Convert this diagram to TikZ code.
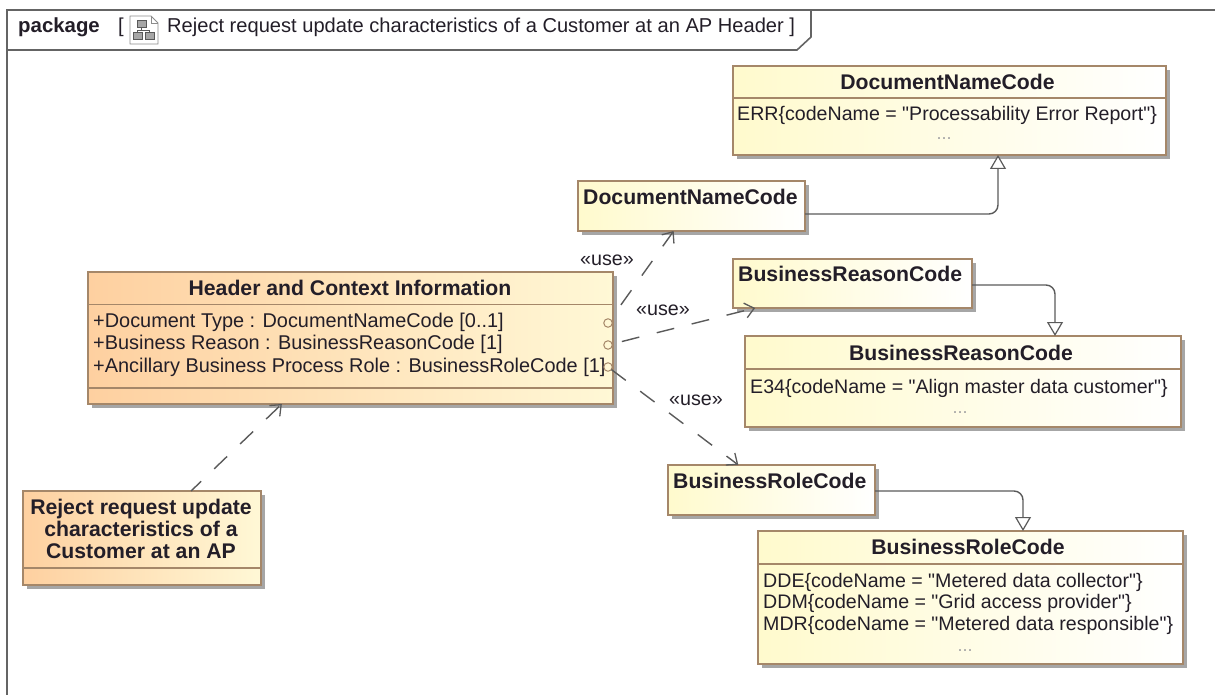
\documentclass[tikz,border=0pt]{standalone}
\usepackage{fontspec}
\setmainfont{Liberation Sans}
\newfontfamily\rawsans{Liberation Sans}
\usetikzlibrary{arrows.meta,shadows}
\definecolor{edgebrown}{RGB}{165,135,105}
\definecolor{framegray}{RGB}{100,100,100}
\definecolor{linegray}{RGB}{90,90,90}
\definecolor{inkdark}{RGB}{35,30,40}
\definecolor{orangeL}{RGB}{254,208,160}
\definecolor{orangeR}{RGB}{255,248,214}
\definecolor{yellowL}{RGB}{255,250,205}
\tikzset{
  x=1pt,y=-1pt,
  boxbase/.style={rectangle,draw=edgebrown,line width=1.5pt,anchor=north west,inner sep=0pt,outer sep=0pt,
    drop shadow={shadow xshift=4pt,shadow yshift=-4pt,fill=black!35,opacity=1}},
  classbox/.style={boxbase,left color=orangeL,right color=orangeR},
  codebox/.style={boxbase,left color=yellowL,right color=white},
  sep/.style={draw=edgebrown,line width=1.3pt},
  titletext/.style={font=\fontsize{21.2}{22}\selectfont\bfseries,text=inkdark,inner sep=0pt},
  bodytext/.style={font=\rawsans\fontsize{19.9}{22}\selectfont,text=inkdark,inner sep=0pt,anchor=west},
  valuetext/.style={font=\rawsans\fontsize{19.6}{22}\selectfont,text=inkdark,inner sep=0pt,anchor=west},
  stereo/.style={font=\fontsize{19.7}{22}\selectfont,text=inkdark,inner sep=0pt},
  dotstext/.style={font=\fontsize{18}{20}\selectfont,text=black!35,inner sep=0pt,anchor=base},
  port/.style={circle,draw=edgebrown,line width=1pt,minimum size=8.5pt,inner sep=0pt,outer sep=0pt},
  usedep/.style={draw=linegray,line width=1.4pt,dash pattern=on 18pt off 18pt,
    -{Straight Barb[length=9pt,width=15pt,line width=1.3pt]}},
  genline/.style={draw=linegray,line width=1.4pt,rounded corners=9pt,
    -{Triangle[open,length=14pt,width=16pt,fill=white,line width=1.2pt]}},
}
\begin{document}
\begin{tikzpicture}
\useasboundingbox (0,0) rectangle (1215,695);
% frame
\draw[framegray,line width=1.6pt] (7,695) -- (7,10) -- (1215,10);
\draw[framegray,line width=1.6pt] (7,50) -- (797,50) -- (811,37) -- (811,10);
\node[font=\fontsize{20.4}{22}\selectfont\bfseries,text=inkdark,inner sep=0pt,anchor=west] (kw) at (18,27) {package};
\node[bodytext,font=\rawsans\fontsize{20.1}{22}\selectfont] (lb) at (118,27) {[};
\node[bodytext,font=\rawsans\fontsize{20.1}{22}\selectfont] (ttl) at (167,27) {Reject request update characteristics of a Customer at an AP Header ]};
% icon
\draw[black!45,line width=0.9pt,fill=white] (130,16) -- (151,16) -- (158,23) -- (158,44) -- (130,44) -- cycle;
\draw[black!45,line width=0.9pt] (151,16) -- (151,23) -- (158,23);
\draw[black!65,line width=1pt,fill=black!35] (137,21) rectangle (146,28);
\draw[black!65,line width=1pt,fill=black!35] (133,33) rectangle (142,40);
\draw[black!65,line width=1pt,fill=black!35] (145,33) rectangle (154,40);
\draw[black!65,line width=1pt] (141.5,28) -- (141.5,30.5) (137.5,33) -- (137.5,30.5) -- (149.5,30.5) -- (149.5,33);
% boxes
\node[codebox,minimum width=433pt,minimum height=89pt] (bigdn) at (733,66) {};
\node[codebox,minimum width=227pt,minimum height=50pt] (dn) at (578,181) {};
\node[codebox,minimum width=239pt,minimum height=49pt] (br) at (733,259) {};
\node[codebox,minimum width=436pt,minimum height=91pt] (bigbr) at (745,336) {};
\node[codebox,minimum width=207pt,minimum height=50pt] (role) at (668,465) {};
\node[codebox,minimum width=425pt,minimum height=133pt] (bigrole) at (758,531) {};
\node[classbox,minimum width=525pt,minimum height=132pt] (hdr) at (88,272) {};
\node[classbox,minimum width=238pt,minimum height=94pt] (rej) at (23,491) {};
% dividers
\draw[sep] (bigdn.west |- 0,98) -- (bigdn.east |- 0,98);
\draw[sep] (bigbr.west |- 0,369) -- (bigbr.east |- 0,369);
\draw[sep] (bigrole.west |- 0,564) -- (bigrole.east |- 0,564);
\draw[sep] (hdr.west |- 0,304.5) -- (hdr.east |- 0,304.5);
\draw[sep] (hdr.west |- 0,388) -- (hdr.east |- 0,388);
\draw[sep] (rej.west |- 0,568) -- (rej.east |- 0,568);
% titles
\node[titletext] (tbigdn) at (947.5,82) {DocumentNameCode};
\node[titletext,anchor=west] (tdn) at (583,197) {DocumentNameCode};
\node[titletext,anchor=west] (tbr) at (738,274) {BusinessReasonCode};
\node[titletext] (tbigbr) at (961,353) {BusinessReasonCode};
\node[titletext,anchor=west] (trole) at (673,481) {BusinessRoleCode};
\node[titletext] (tbigrole) at (968,547) {BusinessRoleCode};
\node[titletext] (thdr) at (350,288) {Header and Context Information};
\node[titletext,align=center] (trej) at (141,529) {Reject request update\\characteristics of a\\Customer at an AP};
% body
\node[bodytext] (a1) at (93,322) {+Document Type : DocumentNameCode [0..1]};
\node[bodytext] (a2) at (93,344.5) {+Business Reason : BusinessReasonCode [1]};
\node[bodytext] (a3) at (93,367) {+Ancillary Business Process Role : BusinessRoleCode [1]};
\node[valuetext] (v1) at (737,115) {ERR\{codeName = "Processability Error Report"\}};
\node[valuetext] (v2) at (750,388) {E34\{codeName = "Align master data customer"\}};
\node[valuetext] (v3) at (763,582) {DDE\{codeName = "Metered data collector"\}};
\node[valuetext] (v4) at (763,603.5) {DDM\{codeName = "Grid access provider"\}};
\node[valuetext] (v5) at (763,625) {MDR\{codeName = "Metered data responsible"\}};
\node[dotstext] (d1) at (944,140) {...};
\node[dotstext] (d2) at (960,413) {...};
\node[dotstext] (d3) at (965,651) {...};
% ports
\node[port] (p1) at (608,323) {};
\node[port] (p2) at (608,345) {};
\node[port] (p3) at (608,367) {};
% connectors
\draw[usedep,dash phase=4pt] (rej) -- (hdr);
\draw[usedep,dash phase=18pt] (p1) -- (dn);
\draw[usedep,dash phase=26pt] (p2) -- (br);
\draw[usedep] (p3) -- (role);
\draw[genline] ([yshift=-8pt]dn.east) -| ([xshift=48.5pt]bigdn.south);
\draw[genline] ([yshift=-1.5pt]br.east) -| ([xshift=92pt]bigbr.north);
\draw[genline] ([yshift=-1pt]role.east) -| ([xshift=52.5pt]bigrole.north);
% stereotypes
\node[stereo] (s1) at (607,260) {«use»};
\node[stereo] (s2) at (663,310) {«use»};
\node[stereo] (s3) at (696,400) {«use»};
\end{tikzpicture}
\end{document}
